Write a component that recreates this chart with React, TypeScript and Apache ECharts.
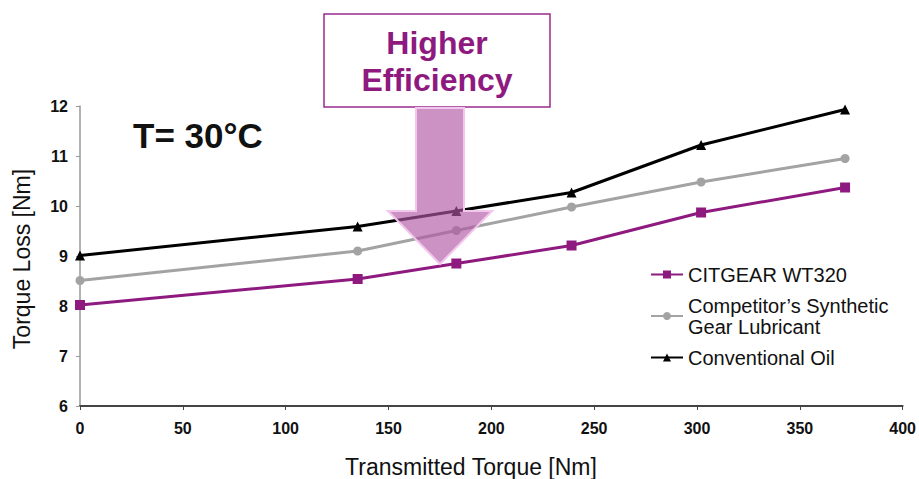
import React, { useEffect, useRef } from "react";
import * as echarts from "echarts";

const xValues = [0, 135, 183, 239, 302, 372];
const citgear = [8.02, 8.54, 8.85, 9.21, 9.87, 10.37];
const competitor = [8.51, 9.1, 9.51, 9.98, 10.48, 10.95];
const conventional = [9.01, 9.59, 9.9, 10.27, 11.22, 11.93];
const seriesNames = ["CITGEAR WT320", "Competitor’s Synthetic\nGear Lubricant", "Conventional Oil"];
const xTicks = { min: 0, max: 400, interval: 50 };
const yTicks = { min: 6, max: 12, interval: 1 };
const xTitle = "Transmitted Torque [Nm]";
const yTitle = "Torque Loss [Nm]";

const FONT = "'Liberation Sans', Arial, sans-serif";

function pairs(ys: number[]) {
  return xValues.map((x, i) => [x, ys[i]]);
}

export default function App() {
  const ref = useRef<HTMLDivElement>(null);
  useEffect(() => {
    if (!ref.current) return;
    const chart = echarts.init(ref.current, null, { renderer: "svg" });
    chart.setOption({
      animation: false,
      backgroundColor: "#fff",
      grid: { left: 80, right: 14, top: 106, bottom: 73 },
      legend: {
        orient: "vertical",
        left: 645,
        top: 259,
        itemWidth: 32,
        itemHeight: 10,
        itemGap: 10,
        textStyle: { fontFamily: FONT, fontSize: 20, color: "#111", lineHeight: 21 },
        data: seriesNames,
      },
      xAxis: {
        type: "value",
        min: xTicks.min,
        max: xTicks.max,
        interval: xTicks.interval,
        axisLine: { lineStyle: { color: "#444", width: 2 } },
        axisTick: { show: true, length: 4, lineStyle: { color: "#444" } },
        axisLabel: { fontFamily: FONT, fontSize: 16, fontWeight: "bold", color: "#111", margin: 14 },
        splitLine: { show: false },
      },
      yAxis: {
        type: "value",
        min: yTicks.min,
        max: yTicks.max,
        interval: yTicks.interval,
        axisLine: { show: true, lineStyle: { color: "#999", width: 1.5 } },
        axisTick: { show: true, length: 4, lineStyle: { color: "#999" } },
        axisLabel: { fontFamily: FONT, fontSize: 16, fontWeight: "bold", color: "#111", margin: 12 },
        splitLine: { show: false },
      },
      series: [
        {
          name: seriesNames[0],
          type: "line",
          data: pairs(citgear),
          symbol: "rect",
          symbolSize: 10,
          itemStyle: { color: "#8e1a80" },
          lineStyle: { color: "#8e1a80", width: 3 },
          z: 3,
        },
        {
          name: seriesNames[1],
          type: "line",
          data: pairs(competitor),
          symbol: "circle",
          symbolSize: 9,
          itemStyle: { color: "#a3a3a3" },
          lineStyle: { color: "#a3a3a3", width: 3 },
          z: 2,
        },
        {
          name: seriesNames[2],
          type: "line",
          data: pairs(conventional),
          symbol: "triangle",
          symbolSize: 10,
          itemStyle: { color: "#000" },
          lineStyle: { color: "#000", width: 3 },
          z: 4,
        },
      ],
      graphic: [
        {
          type: "text",
          x: 471,
          y: 467,
          style: {
            text: xTitle,
            font: `23px ${FONT}`,
            fill: "#111",
            textAlign: "center",
            textVerticalAlign: "middle",
          },
        },
        {
          type: "text",
          x: 22,
          y: 259,
          rotation: Math.PI / 2,
          style: {
            text: yTitle,
            font: `23px ${FONT}`,
            fill: "#111",
            textAlign: "center",
            textVerticalAlign: "middle",
          },
        },
        {
          type: "text",
          x: 133,
          y: 135,
          style: {
            text: "T= 30°C",
            font: `bold 35px ${FONT}`,
            fill: "#111",
            textVerticalAlign: "middle",
          },
        },
        {
          type: "rect",
          shape: { x: 324, y: 14, width: 226, height: 93 },
          style: { fill: "#fff", stroke: "#9a2a8c", lineWidth: 1.5 },
          z: 10,
        },
        {
          type: "text",
          x: 437,
          y: 61,
          z: 11,
          style: {
            text: "Higher\nEfficiency",
            font: `bold 32px ${FONT}`,
            lineHeight: 37,
            fill: "#8e1a80",
            textAlign: "center",
            textVerticalAlign: "middle",
          },
        },
        {
          type: "polygon",
          z: 20,
          shape: {
            points: [
              [416, 108],
              [464, 108],
              [464, 211],
              [492, 211],
              [440, 264],
              [388, 211],
              [416, 211],
            ],
          },
          style: { fill: "rgba(178, 88, 165, 0.65)", stroke: "#f3c6ee", lineWidth: 2 },
        },
      ],
    });
    return () => chart.dispose();
  }, []);
  return <div ref={ref} style={{ width: 919, height: 479, position: "absolute", left: 0, top: 0 }} />;
}
